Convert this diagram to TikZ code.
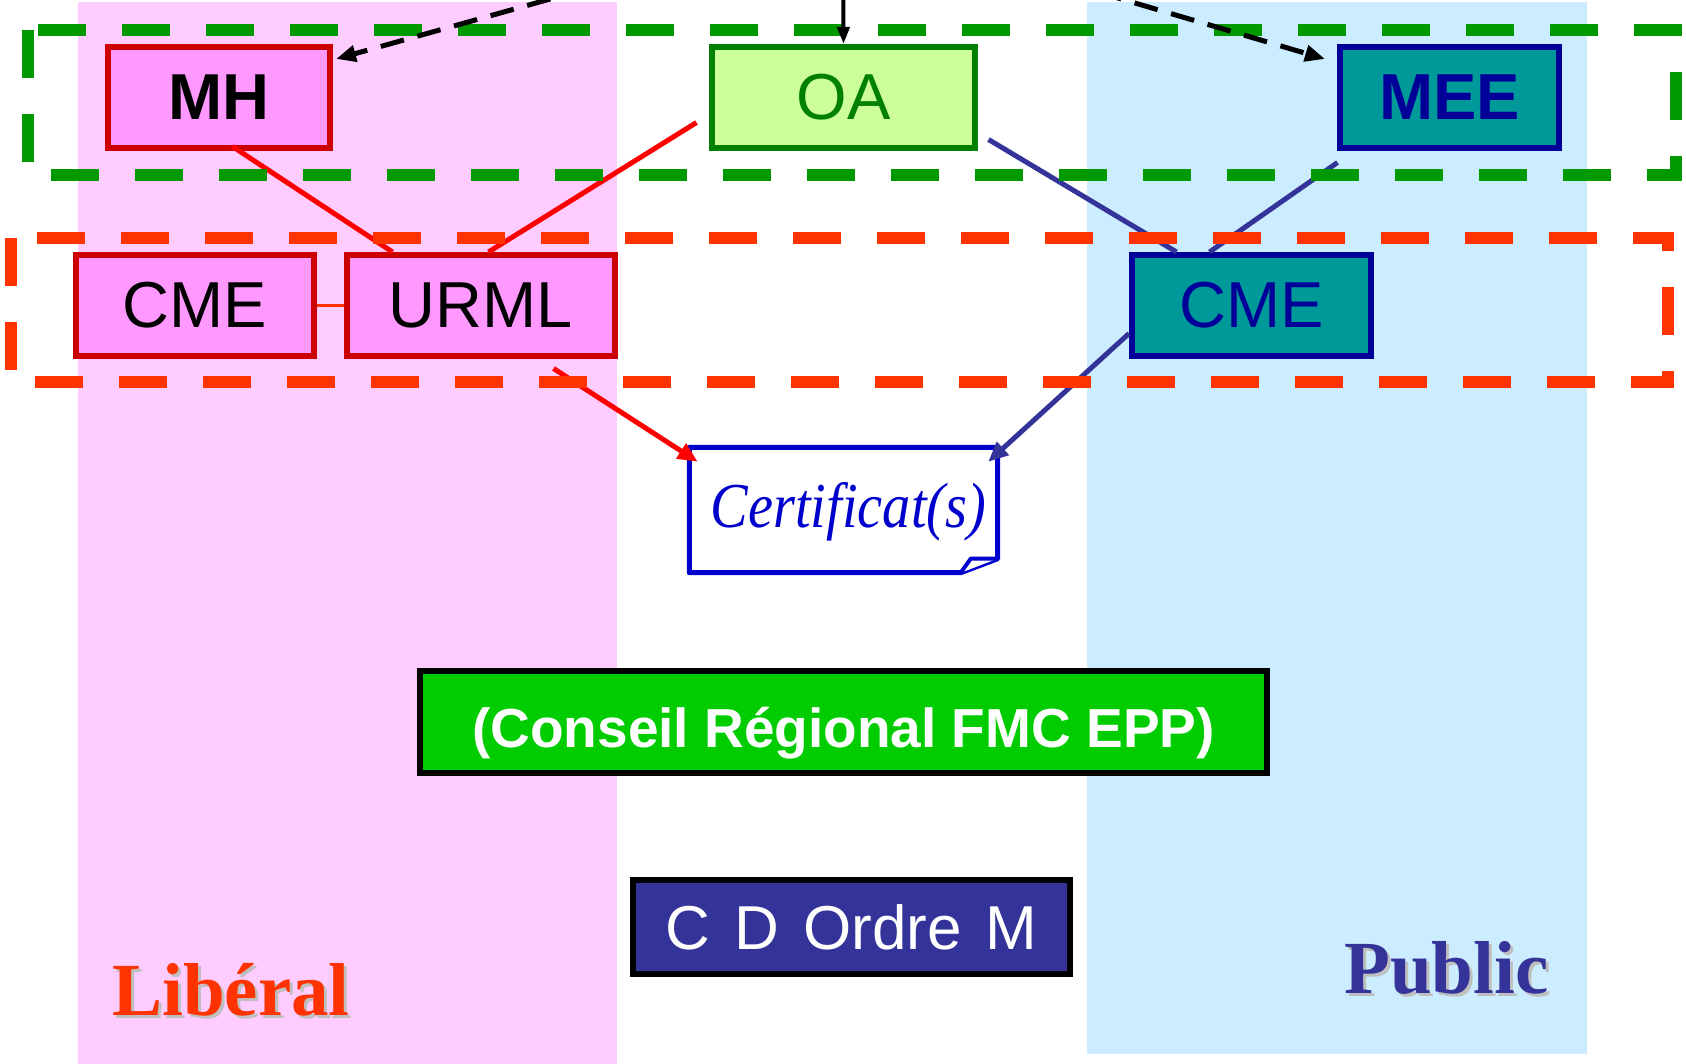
\documentclass[tikz,border=0pt]{standalone}
\usepackage{fontspec}
\usetikzlibrary{arrows.meta,calc}

\newfontfamily\sansf{Liberation Sans}
\newfontfamily\titlef{Liberation Serif}
\newfontfamily\certf{Liberation Serif}[FakeStretch=0.88]
\newcommand\fsz[1]{\fontsize{#1pt}{#1pt}\selectfont}

\definecolor{pinkcol}{HTML}{FFCCFF}
\definecolor{bluecol}{HTML}{CCECFF}
\definecolor{pinkfill}{HTML}{FF99FF}
\definecolor{darkred}{HTML}{CC0000}
\definecolor{oafill}{HTML}{CCFF99}
\definecolor{oagreen}{HTML}{008000}
\definecolor{tealfill}{HTML}{009999}
\definecolor{deepblue}{HTML}{000099}
\definecolor{dashgreen}{HTML}{009900}
\definecolor{dashorange}{HTML}{FF3300}
\definecolor{certblue}{HTML}{0000CC}
\definecolor{linkblue}{HTML}{333399}
\definecolor{linkred}{HTML}{FF0000}
\definecolor{fmcgreen}{HTML}{00CC00}
\definecolor{cdblue}{HTML}{333399}
\definecolor{shadowgray}{HTML}{BFBFBF}

\begin{document}
\begin{tikzpicture}[x=1pt,y=-1pt,
  box/.style={draw, line width=6pt, inner sep=0pt, minimum height=101pt},
  pinkbox/.style={box, fill=pinkfill, draw=darkred},
  tealbox/.style={box, fill=tealfill, draw=deepblue, text=deepblue},
  bigsans/.style={font={\sansf\fsz{65}}},
  bigsansbold/.style={font={\sansf\bfseries\fsz{65}}},
  redlink/.style={draw=linkred, line width=5pt},
  bluelink/.style={draw=linkblue, line width=5pt},
  tipfill/.style={-{Triangle[length=20pt,width=17pt]}},
  groupframe/.style={line width=12pt, dash pattern=on 48pt off 36pt},
  sidetitle/.style={anchor=base west, inner sep=0pt, font={\titlef\bfseries\fsz{75}}},
]
\useasboundingbox (0,0) rectangle (1686,1064);

% sector bands
\fill[pinkcol] (78,2) rectangle (617,1064);
\fill[bluecol] (1087,2) rectangle (1587,1054);

% boxes
\node[pinkbox, bigsansbold, minimum width=222pt] (MH) at (219,97.5) {MH};
\node[box, fill=oafill, draw=oagreen, text=oagreen, bigsans, minimum width=263pt] (OA) at (843.5,97.5) {OA};
\node[tealbox, bigsansbold, minimum width=219pt] (MEE) at (1449.5,97.5) {MEE};
\node[pinkbox, bigsans, minimum width=238pt] (CMEL) at (195,305.5) {CME};
\node[pinkbox, bigsans, minimum width=268pt] (URML) at (481,305.5) {URML};
\node[tealbox, bigsans, minimum width=239pt] (CMER) at (1251.5,305.5) {CME};

\node[inner sep=0pt, minimum width=308pt, minimum height=125pt, text=certblue,
      font={\certf\itshape\fsz{64}}, text height=34pt, text depth=0pt] (cert) at (843.5,510) {\hspace*{10pt}Certificat(s)};
\draw[certblue, line width=5pt, line join=round]
  (cert.north west) -- (cert.north east) -- ($(cert.south east)+(0,-14)$)
  -- ($(cert.south east)+(-37,0)$) -- (cert.south west) -- cycle;
\draw[certblue, line width=4pt, line join=round, fill=white]
  ($(cert.south east)+(-37,0)$) -- ($(cert.south east)+(-27,-14)$) -- ($(cert.south east)+(0,-14)$);

\node[draw=black, line width=6pt, fill=fmcgreen, text=white, inner sep=0pt,
      minimum width=847pt, minimum height=102pt, text height=50pt, text depth=0pt,
      font={\sansf\bfseries\fsz{55}}] (FMC) at (843.5,722) {(Conseil Régional FMC EPP)};
\node[draw=black, line width=6pt, fill=cdblue, text=white, inner sep=0pt,
      minimum width=437pt, minimum height=94pt,
      font={\sansf\fsz{62}\spaceskip=24pt}] (CDOM) at (851.5,927) {C D Ordre M};

% links between the boxes
\draw[redlink] ($(MH.south west)+(127.5,-4.5)$) -- ($(URML.north west)+(48.5,0)$);
\draw[redlink] ($(OA.north west)+(-12.5,78.5)$) -- ($(URML.north west)+(144.5,0)$);
\draw[bluelink] ($(OA.north east)+(10.5,95.5)$) -- ($(CMER.north west)+(47.5,0)$);
\draw[bluelink] ($(MEE.south west)+(0.5,11.5)$) -- ($(CMER.north west)+(80.5,0)$);
\draw[draw=dashorange, line width=3pt] (CMEL.east) -- (URML.west);
\draw[redlink, tipfill] ($(URML.south west)+(209.5,9.5)$) -- ($(cert.north west)+(8.5,14.5)$);
\draw[bluelink, tipfill] ($(CMER.west)+(0,28)$) -- ($(cert.north east)+(-9.5,14.5)$);

% dashed groupings
\draw[groupframe, dashgreen] (28,30) -- (28,175) -- (1676,175) -- (1676,30) -- cycle;
\draw[groupframe, dashorange] (11,238) -- (11,382) -- (1668,382) -- (1668,238) -- cycle;

% arrows coming from above
\coordinate (src) at (843,-83);
\begin{scope}
  \clip (0,0) rectangle (1686,1064);
  \draw[line width=4pt, -{Triangle[length=17pt,width=12pt]}] (src) -- (OA.north);
  \draw[line width=5pt, dash pattern=on 24pt off 14pt, -{Triangle[length=20pt,width=16pt]}]
    (src) -- ($(MH.north east)+(3,15)$);
  \draw[line width=5pt, dash pattern=on 24pt off 14pt, -{Triangle[length=20pt,width=16pt]}]
    (src) -- ($(MEE.north west)+(-12,15)$);
\end{scope}

% sector titles with shadows
\node[sidetitle, text=shadowgray] (libshadow) at (115,1018) {Libéral};
\node[sidetitle, text=dashorange] (lib) at (112,1015) {Libéral};
\node[sidetitle, text=shadowgray] (pubshadow) at (1347,996) {Public};
\node[sidetitle, text=linkblue] (pub) at (1344,993) {Public};
\end{tikzpicture}
\end{document}
